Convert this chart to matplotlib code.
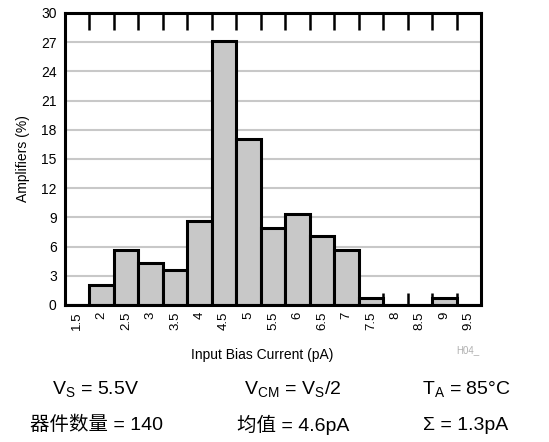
import matplotlib.pyplot as plt
import matplotlib.transforms as mtransforms
import numpy as np

plt.rcParams['font.family'] = ['Liberation Sans', 'Noto Sans CJK SC', 'DejaVu Sans']
plt.rcParams['mathtext.fontset'] = 'custom'
plt.rcParams['mathtext.rm'] = 'Liberation Sans'

# histogram data (percent of 140 units)
bin_labels = ["1.5", "2", "2.5", "3", "3.5", "4", "4.5", "5", "5.5",
              "6", "6.5", "7", "7.5", "8", "8.5", "9", "9.5"]
percent = [0, 2.1, 5.7, 4.3, 3.6, 8.6, 27.1, 17.1, 7.9,
           9.3, 7.1, 5.7, 0.7, 0, 0, 0.7, 0]
y_ticks = [0, 3, 6, 9, 12, 15, 18, 21, 24, 27, 30]

fig = plt.figure(figsize=(5.49, 4.42), dpi=100)
ax = fig.add_axes([0.1184, 0.31, 0.7577, 0.6606])

x = np.arange(len(bin_labels))
ax.bar(x, percent, width=1.0, color="#c8c8c8", edgecolor="black",
       linewidth=2.2, zorder=3)

ax.set_xlim(-0.5, len(bin_labels) - 0.5)
ax.set_ylim(0, 30)
ax.set_yticks(y_ticks)
ax.set_axisbelow(False)
ax.yaxis.grid(True, color="#c8c8c8", linewidth=1.5)

ax.set_xticks(x)
ax.set_xticklabels(bin_labels, rotation=90, fontsize=9.5)
ax.set_xticks(x[:-1] + 0.5, minor=True)
ax.xaxis.set_tick_params(which="major", length=0, pad=5)
ax.xaxis.set_tick_params(which="minor", direction="in", length=12,
                         width=1.8, top=True, bottom=False, color="black")
ax.tick_params(axis="y", length=0, pad=6, labelsize=10)

# inward ticks along the bottom edge, hidden behind the bars
trans = mtransforms.blended_transform_factory(ax.transData, ax.transAxes)
ax.vlines(x[:-1] + 0.5, 0, 0.041, transform=trans, colors="black",
          linewidth=1.8, zorder=2.5)

for s in ax.spines.values():
    s.set_linewidth(2.2)
    s.set_zorder(4)

ax.set_ylabel("Amplifiers (%)", fontsize=10, labelpad=8)

fig.text(262 / 549, 1 - 355 / 442, "Input Bias Current (pA)", ha="center",
         va="center", fontsize=10)
fig.text(468 / 549, 1 - 350 / 442, "H04_", ha="center", va="center",
         fontsize=7, color="#b0b0b0")

row1 = [r"V$_\mathregular{S}$ = 5.5V",
        r"V$_\mathregular{CM}$ = V$_\mathregular{S}$/2",
        r"T$_\mathregular{A}$ = 85°C"]
row2 = ["器件数量 = 140", "均值 = 4.6pA", "Σ = 1.3pA"]
col_x = [96, 293, 466]
for cx, t in zip(col_x, row1):
    fig.text(cx / 549, 1 - 390 / 442, t, ha="center", va="center", fontsize=14)
for cx, t in zip(col_x, row2):
    fig.text(cx / 549, 1 - 425 / 442, t, ha="center", va="center", fontsize=14)

fig.savefig("out.png", dpi=100)
